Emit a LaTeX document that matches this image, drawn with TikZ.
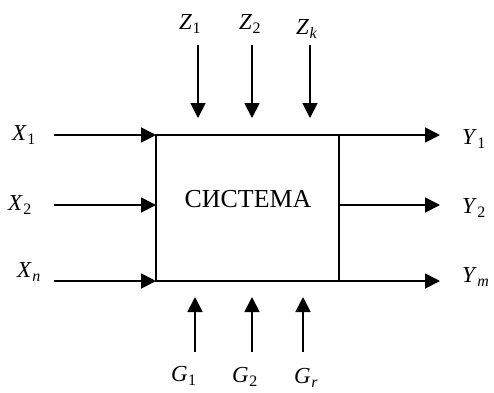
\documentclass[tikz,border=0pt]{standalone}
\usepackage{fontspec}
\setmainfont{Liberation Serif}
\usetikzlibrary{arrows.meta}
\newcommand{\sv}[2]{\textit{#1}\kern0.5pt\raisebox{-0.4ex}{\fontsize{16}{16}\selectfont #2}}
\begin{document}
\begin{tikzpicture}[x=1bp,y=-1bp,
  conn/.style={line width=1.8bp,-{Triangle[length=15bp,width=15bp]}},
  sysbox/.style={draw,line width=2.2bp,minimum width=183bp,minimum height=146bp,inner sep=0pt},
  lbl/.style={inner sep=0pt,font=\fontsize{23}{23}\selectfont}]
\useasboundingbox (0,0) rectangle (494,392);
\node[sysbox] (S) at (247.5,208) {};
\node[inner sep=0pt,font=\fontsize{26}{26}\selectfont,anchor=base] (T) at (248,207) {СИСТЕМА};
% inputs X
\coordinate (x1s) at (54,135);
\coordinate (x2s) at (54,205);
\coordinate (x3s) at (54,281);
\coordinate (x1e) at (156,135);
\coordinate (x2e) at (156,205);
\coordinate (x3e) at (156,281);
\draw[conn] (x1s) -- (x1e);
\draw[conn] (x2s) -- (x2e);
\draw[conn] (x3s) -- (x3e);
\node[lbl,anchor=base west] (X1) at (12,140) {\sv{X}{1}};
\node[lbl,anchor=base west] (X2) at (8,210) {\sv{X}{2}};
\node[lbl,anchor=base west] (Xn) at (17,277) {\sv{X}{\textit{n}}};
% outputs Y
\coordinate (y1s) at (339,135);
\coordinate (y2s) at (339,205);
\coordinate (y3s) at (339,281);
\coordinate (y1e) at (440,135);
\coordinate (y2e) at (440,205);
\coordinate (y3e) at (440,281);
\draw[conn] (y1s) -- (y1e);
\draw[conn] (y2s) -- (y2e);
\draw[conn] (y3s) -- (y3e);
\node[lbl,anchor=base west] (Y1) at (462,144) {\sv{Y}{1}};
\node[lbl,anchor=base west] (Y2) at (462,213) {\sv{Y}{2}};
\node[lbl,anchor=base west] (Ym) at (462,282) {\sv{Y}{\textit{m}}};
% Z from top
\coordinate (z1s) at (198,45);
\coordinate (z2s) at (252,45);
\coordinate (z3s) at (310,45);
\coordinate (z1e) at (198,118);
\coordinate (z2e) at (252,118);
\coordinate (z3e) at (310,118);
\draw[conn] (z1s) -- (z1e);
\draw[conn] (z2s) -- (z2e);
\draw[conn] (z3s) -- (z3e);
\node[lbl,anchor=base west] (Z1) at (179,29) {\sv{Z}{1}};
\node[lbl,anchor=base west] (Z2) at (239,29) {\sv{Z}{2}};
\node[lbl,anchor=base west] (Zk) at (296,34) {\sv{Z}{\textit{k}}};
% G from bottom
\coordinate (g1s) at (195,352);
\coordinate (g2s) at (252,352);
\coordinate (g3s) at (303,352);
\coordinate (g1e) at (195,297);
\coordinate (g2e) at (252,297);
\coordinate (g3e) at (303,297);
\draw[conn] (g1s) -- (g1e);
\draw[conn] (g2s) -- (g2e);
\draw[conn] (g3s) -- (g3e);
\node[lbl,anchor=base west] (G1) at (171,381) {\sv{G}{1}};
\node[lbl,anchor=base west] (G2) at (232,382) {\sv{G}{2}};
\node[lbl,anchor=base west] (Gr) at (294,383) {\sv{G}{\textit{r}}};
\end{tikzpicture}
\end{document}
